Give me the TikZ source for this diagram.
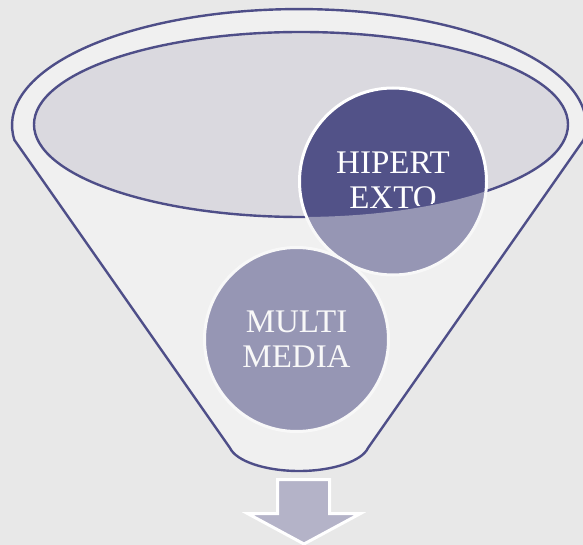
\documentclass[tikz,border=0pt]{standalone}
\usepackage{fontspec}
\setmainfont{Liberation Serif}
\definecolor{bgc}{HTML}{E8E8E8}
\definecolor{funnelc}{HTML}{F0F0F0}
\definecolor{holec}{HTML}{DAD9DF}
\definecolor{linec}{HTML}{4E4E88}
\definecolor{darkc}{HTML}{525288}
\definecolor{arrowc}{HTML}{B4B3C8}
\newcommand\funnelshape{(14.4,-140) -- (230,-448) .. controls (236,-461) and (265,-471) .. (299,-471) .. controls (333,-471) and (362,-461) .. (368,-448) -- (583.6,-140) arc[start angle=-7.4, end angle=187.4, x radius=287, y radius=116] -- cycle}
\newcommand\holeshape{(301,-124.5) ellipse [x radius=267, y radius=92.5]}
\tikzset{
  outline/.style={draw=linec, line width=2.4pt},
  ball/.style={circle, fill=darkc, draw=white, line width=3pt, inner sep=0pt},
  balltext/.style={text=white, align=center, font=\fontsize{33}{35}\selectfont, inner sep=0pt},
  downarrow/.style={fill=arrowc, draw=white, line width=3pt, line join=miter}
}
\begin{document}
\begin{tikzpicture}[x=1pt,y=1pt]
\useasboundingbox (0,0) rectangle (583,-545);
\fill[bgc] (0,0) rectangle (583,-545);
% funnel body
\fill[funnelc] \funnelshape;
% hole
\fill[holec] \holeshape;
% circles
\node[ball, minimum size=187pt] (hip) at (393,-181.5) {};
\node[ball, minimum size=184pt] (mm) at (296.5,-339.5) {};
\node[balltext] (mmtext) at (mm.center) {MULTI\\MEDIA};
% text of the upper ball shows only inside the hole
\begin{scope}
\clip (301,-124.5) ellipse [x radius=265, y radius=90.5];
\node[balltext] (hiptext) at ([yshift=1pt]hip.center) {HIPERT\\EXTO};
\end{scope}
% translucent front of the funnel
\fill[funnelc, opacity=0.43, even odd rule] \funnelshape \holeshape;
% rim of the hole, hidden behind the upper ball
\begin{scope}[even odd rule]
\clip (0,0) rectangle (583,-545) (hip.center) circle (95pt);
\draw[outline] \holeshape;
\end{scope}
% funnel outline
\draw[outline, line join=round] \funnelshape;
% arrow
\draw[downarrow] (277.5,-479.5) -- (329.5,-479.5) -- (329.5,-513.5) -- (360.5,-513.5) -- (304,-544) -- (247.5,-513.5) -- (277.5,-513.5) -- cycle;
\end{tikzpicture}
\end{document}
